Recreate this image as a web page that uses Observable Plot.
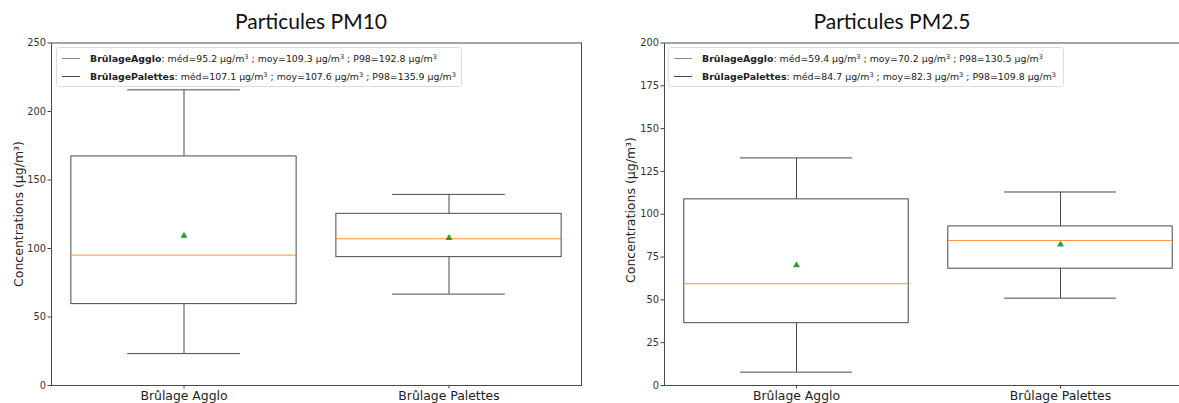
<!DOCTYPE html>
<html>
<head>
<meta charset="utf-8">
<script src="https://cdn.jsdelivr.net/npm/d3@7"></script>
<script src="https://cdn.jsdelivr.net/npm/@observablehq/plot@0.6"></script>
<style>
  html, body { margin:0; padding:0; background:#fff; }
  body { width:1179px; height:403px; overflow:hidden; position:relative; font-family:"DejaVu Sans", sans-serif; }
  .panel { position:absolute; top:0; }
  .panel svg { max-width:none !important; display:block; }
  .title { position:absolute; font-family:Lato, "Open Sans", sans-serif; font-size:21px; color:#111; white-space:nowrap; transform:translateX(-50%); }
  .ylab { position:absolute; font-family:"DejaVu Sans", sans-serif; font-size:12.5px; color:#222; white-space:nowrap; transform:translate(-50%,-50%) rotate(-90deg); }
  .legend { position:absolute; background:rgba(255,255,255,0.85); border:1px solid #ddd; border-radius:3px; font-family:"DejaVu Sans", sans-serif; font-size:9.4px; color:#222; padding:1px 4px 1px 4px; box-sizing:border-box; }
  .legend .row { display:flex; align-items:center; height:18px; white-space:nowrap; }
  .legend .sw { width:18px; height:0; border-top:1px solid #888; margin-left:1px; margin-right:10px; flex:none; }
  .legend .txt { white-space:pre; }
  .legend b { font-weight:bold; }
  .legend sup { font-size:0.7em; vertical-align:0.45em; line-height:0; }
  svg g[aria-label="x-axis tick label"] { font-size:12.4px; }
  svg g[aria-label="y-axis tick label"] { font-size:9.8px; }
</style>
</head>
<body>
<script>
// ---------- data ----------
const categories = ["Brûlage Agglo", "Brûlage Palettes"];

const pm10Low    = [23.3, 66.7];
const pm10Q1     = [59.4, 93.7];
const pm10Median = [95.2, 107.1];
const pm10Q3     = [167.2, 125.3];
const pm10High   = [215.8, 139.5];
const pm10Mean   = [109.3, 107.6];
const pm10Ticks  = [0, 50, 100, 150, 200, 250];

const pm25Low    = [7.8, 51.0];
const pm25Q1     = [36.4, 68.2];
const pm25Median = [59.4, 84.7];
const pm25Q3     = [108.7, 92.9];
const pm25High   = [132.9, 113.0];
const pm25Mean   = [70.2, 82.3];
const pm25Ticks  = [0, 25, 50, 75, 100, 125, 150, 175, 200];

const legendNames = ["BrûlageAgglo", "BrûlagePalettes"];
const pm10Stats = [[95.2, 109.3, 192.8], [107.1, 107.6, 135.9]];
const pm25Stats = [[59.4, 70.2, 130.5], [84.7, 82.3, 109.8]];
const statLabels = ["méd", "moy", "P98"];
const unitText = "µg/m";

const titles = ["Particules PM10", "Particules PM2.5"];
const yLabel = "Concentrations (µg/m³)";

function rows(low, q1, med, q3, high, mean) {
  return categories.map((c, i) => ({cat: c, low: low[i], q1: q1[i], med: med[i], q3: q3[i], high: high[i], mean: mean[i]}));
}

function panel({data, ticks, left, width, marginLeft, marginRight}) {
  const plotW = width - marginLeft - marginRight;
  const band = plotW / categories.length;
  const boxInset = band * 0.075;
  const capInset = band * 0.2875;
  const stroke = "#4a4a4a";
  const chart = Plot.plot({
    width, height: 403,
    marginTop: 42.5, marginBottom: 18, marginLeft, marginRight,
    style: {fontFamily: "DejaVu Sans, sans-serif", fontSize: "10px", color: "#333", background: "transparent"},
    x: {type: "band", domain: categories, padding: 0, label: null},
    y: {domain: [ticks[0], ticks[ticks.length - 1]], label: null},
    marks: [
      Plot.ruleX(data, {x: "cat", y1: "low", y2: "q1", stroke}),
      Plot.ruleX(data, {x: "cat", y1: "q3", y2: "high", stroke}),
      Plot.tickY(data, {x: "cat", y: "low", stroke, insetLeft: capInset, insetRight: capInset}),
      Plot.tickY(data, {x: "cat", y: "high", stroke, insetLeft: capInset, insetRight: capInset}),
      Plot.barY(data, {x: "cat", y1: "q1", y2: "q3", fill: "none", stroke, strokeWidth: 1, insetLeft: boxInset, insetRight: boxInset}),
      Plot.tickY(data, {x: "cat", y: "med", stroke: "#ff7f0e", strokeOpacity: 0.85, insetLeft: boxInset, insetRight: boxInset}),
      Plot.dot(data, {x: "cat", y: "mean", symbol: "triangle", fill: "#2ca02c", stroke: "none", r: 2.6}),
      Plot.frame({stroke, strokeWidth: 1}),
      Plot.axisY({ticks, tickSize: 3.5, tickPadding: 2, stroke: "#444", fill: "#333"}),
      Plot.axisX({tickSize: 3.5, tickPadding: 2, stroke: "#444", fill: "#222"})
    ]
  });
  const div = document.createElement("div");
  div.className = "panel";
  div.style.left = left + "px";
  div.style.width = width + "px";
  div.appendChild(chart);
  document.body.appendChild(div);
}

function addTitle(text, cx) {
  const d = document.createElement("div");
  d.className = "title";
  d.style.left = cx + "px";
  d.style.top = "8px";
  d.textContent = text;
  document.body.appendChild(d);
}
function addYLabel(cx, cy) {
  const d = document.createElement("div");
  d.className = "ylab";
  d.style.left = cx + "px";
  d.style.top = cy + "px";
  d.textContent = yLabel;
  document.body.appendChild(d);
}
function addLegend(stats, left, top, width, colors) {
  const d = document.createElement("div");
  d.className = "legend";
  d.style.left = left + "px";
  d.style.top = top + "px";
  d.style.width = width + "px";
  stats.forEach((s, i) => {
    const r = document.createElement("div");
    r.className = "row";
    const sw = document.createElement("span");
    sw.className = "sw";
    sw.style.borderTopColor = colors[i];
    r.appendChild(sw);
    const t = document.createElement("span");
    t.className = "txt";
    const b = document.createElement("b");
    b.textContent = legendNames[i];
    t.appendChild(b);
    t.appendChild(document.createTextNode(": "));
    s.forEach((v, k) => {
      if (k > 0) t.appendChild(document.createTextNode(" ; "));
      t.appendChild(document.createTextNode(statLabels[k] + "=" + v.toFixed(1) + " " + unitText));
      const sup = document.createElement("sup");
      sup.textContent = "3";
      t.appendChild(sup);
    });
    r.appendChild(t);
    d.appendChild(r);
  });
  document.body.appendChild(d);
}

panel({data: rows(pm10Low, pm10Q1, pm10Median, pm10Q3, pm10High, pm10Mean), ticks: pm10Ticks,
       left: 0, width: 590, marginLeft: 51, marginRight: 9});
panel({data: rows(pm25Low, pm25Q1, pm25Median, pm25Q3, pm25High, pm25Mean), ticks: pm25Ticks,
       left: 590, width: 602, marginLeft: 74, marginRight: 0});

addTitle(titles[0], 311);
addTitle(titles[1], 892);
addYLabel(18, 214);
addYLabel(630, 210);
addLegend(pm10Stats, 56, 47, 406, ["#8a8a8a", "#444"]);
addLegend(pm25Stats, 668, 47, 396, ["#8a8a8a", "#444"]);
</script>
</body>
</html>
